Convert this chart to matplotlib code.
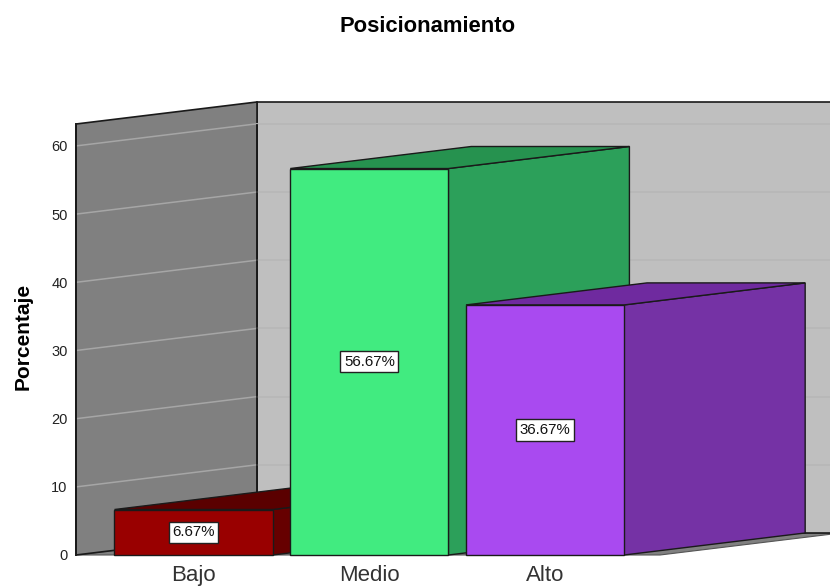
import matplotlib
matplotlib.use('Agg')
import matplotlib.pyplot as plt
from matplotlib.patches import Polygon

plt.rcParams['font.family'] = ['Liberation Sans', 'DejaVu Sans']

categorias = ['Bajo', 'Medio', 'Alto']
porcentajes = [6.67, 56.67, 36.67]
etiquetas = ['6.67%', '56.67%', '36.67%']
ticks_y = [0, 10, 20, 30, 40, 50, 60]

col_frente = ['#990000', '#41eb80', '#a94af0']
col_lado = ['#660000', '#2ca05a', '#7532a5']
col_tope = ['#5a0000', '#26924f', '#6f2a9f']

# profundidad del efecto 3D en unidades de datos
dx = 1.03
dy = 3.23
ancho = 0.90
x_min, x_max = -0.669, 2.654
y_max = 63.2
linea = '#1a1a1a'

fig = plt.figure(figsize=(8.3, 5.87), dpi=100)
ax = fig.add_axes([76 / 830, 32 / 587, 584 / 830, 431 / 587])
ax.set_xlim(x_min, x_max)
ax.set_ylim(0, y_max)
ax.patch.set_visible(False)
for s in ax.spines.values():
    s.set_visible(False)


def poly(pts, color, edge=linea, lw=1.0, z=1):
    ax.add_patch(Polygon(pts, closed=True, facecolor=color, edgecolor=edge,
                         linewidth=lw, clip_on=False, zorder=z, joinstyle='miter'))


# suelo y paredes
poly([(x_min, 0), (x_max, 0), (x_max + dx, dy), (x_min + dx, dy)], '#808080', edge='#555555', lw=0.8)
poly([(x_min + dx, dy), (x_max + dx, dy), (x_max + dx, y_max + dy), (x_min + dx, y_max + dy)], '#bfbfbf', lw=1.2)
poly([(x_min, 0), (x_min + dx, dy), (x_min + dx, y_max + dy), (x_min, y_max)], '#808080', lw=1.2)

for t in ticks_y[1:]:
    ax.plot([x_min + 0.005, x_min + dx], [t, t + dy], color='#a6a6a6', lw=1.1, zorder=1.5, clip_on=False)
    ax.plot([x_min + dx, x_max + dx], [t + dy, t + dy], color='#b6b6b6', lw=1.1, zorder=1.5, clip_on=False)
# la arista vertical se repasa encima de las rejillas
ax.plot([x_min + dx, x_min + dx], [dy, y_max + dy], color=linea, lw=1.2, zorder=1.6)
ax.plot([x_min, x_min], [0, y_max], color=linea, lw=1.4, zorder=1.6, clip_on=False)

# barras de izquierda a derecha para que se tapen bien
for i, v in enumerate(porcentajes):
    x0 = i - ancho / 2
    x1 = i + ancho / 2
    z = 2 + i
    poly([(x1, 0), (x1 + dx, dy), (x1 + dx, v + dy), (x1, v)], col_lado[i], z=z)
    poly([(x0, v), (x1, v), (x1 + dx, v + dy), (x0 + dx, v + dy)], col_tope[i], z=z)
    poly([(x0, 0), (x1, 0), (x1, v), (x0, v)], col_frente[i], z=z + 0.1)
    ax.text(i, v / 2, etiquetas[i], ha='center', va='center', fontsize=10.8, color='#111111', zorder=z + 0.2,
            bbox=dict(boxstyle='square,pad=0.24', facecolor='white', edgecolor='#222222', linewidth=1.0))

ax.set_xticks(range(len(categorias)))
ax.set_xticklabels(categorias, fontsize=16, color='#333333')
ax.set_yticks(ticks_y)
ax.set_yticklabels([str(t) for t in ticks_y], fontsize=10.5, color='#222222')
ax.tick_params(axis='x', length=0, pad=7)
ax.tick_params(axis='y', length=0, pad=6)

ax.set_ylabel('Porcentaje', fontsize=15, fontweight='bold', color='black')
ax.yaxis.set_label_coords(-0.075, 0.507)

fig.text(427.5 / 830, 1 - 26 / 587, 'Posicionamiento', ha='center', va='center',
         fontsize=15.8, fontweight='bold', color='black')

fig.savefig('out.png', dpi=100)
